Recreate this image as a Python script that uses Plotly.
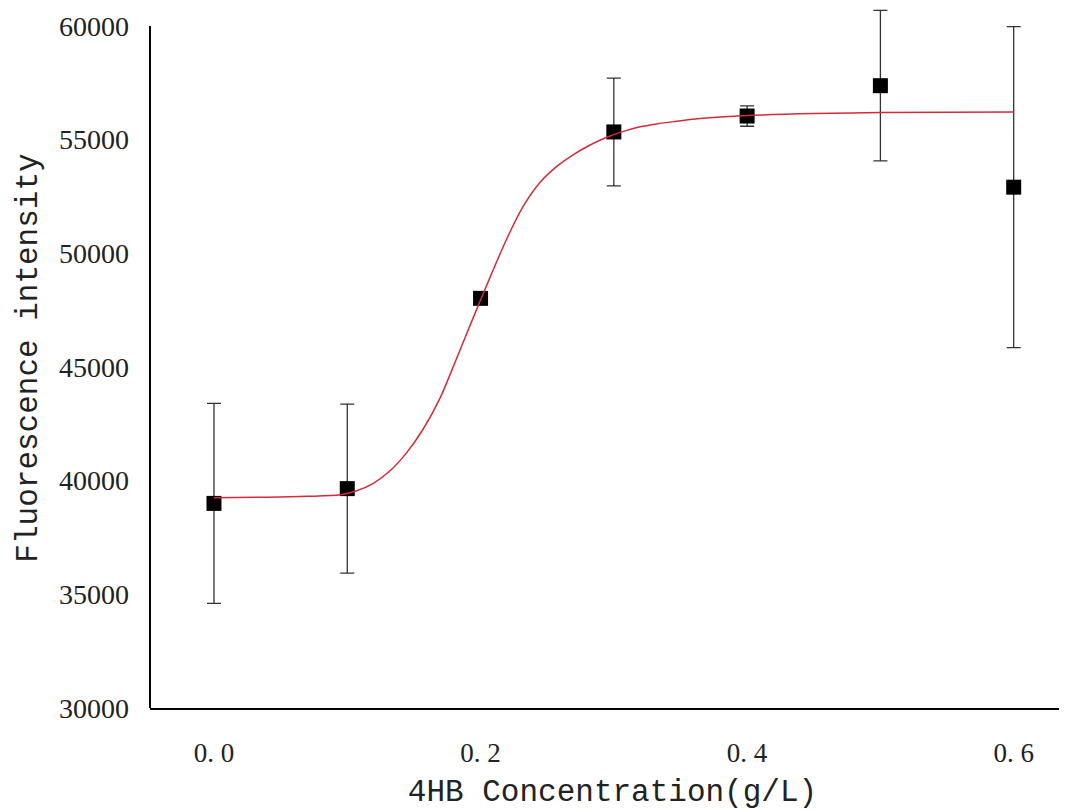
import plotly.graph_objects as go

# measured data
conc = [0.0, 0.1, 0.2, 0.3, 0.4, 0.5, 0.6]
intensity = [39000, 39650, 48020, 55340, 56040, 57375, 52910]
err = [4400, 3720, 250, 2370, 450, 3310, 7060]

# fitted curve
fit_x = [0.0, 0.04, 0.07, 0.0946, 0.1071, 0.1196, 0.1321, 0.1446, 0.1571, 0.1696,
         0.1821, 0.1946, 0.2071, 0.2197, 0.2321, 0.2447, 0.2572, 0.2697, 0.2822,
         0.2947, 0.3072, 0.3197, 0.3322, 0.3447, 0.3647, 0.4, 0.45, 0.5, 0.6]
fit_y = [39250, 39270, 39310, 39380, 39560, 39884, 40434, 41234, 42284, 43634,
         45384, 47184, 48944, 50644, 52074, 53124, 53824, 54344, 54764,
         55104, 55364, 55564, 55694, 55794, 55930, 56060, 56150, 56190, 56220]

x_tickvals = [0.0, 0.2, 0.4, 0.6]
x_ticktext = ["0. 0", "0. 2", "0. 4", "0. 6"]
y_tickvals = [30000, 35000, 40000, 45000, 50000, 55000, 60000]
y_axis_span = [30000, 60000]

serif = "Liberation Serif"
mono = "Liberation Mono"

fig = go.Figure()
fig.add_trace(go.Scatter(
    x=conc, y=intensity, mode="markers",
    marker=dict(symbol="square", size=15, color="black"),
    error_y=dict(type="data", array=err, visible=True, color="#333333", thickness=1.3, width=7),
    cliponaxis=False, showlegend=False,
))
fig.add_trace(go.Scatter(
    x=fit_x, y=fit_y, mode="lines",
    line=dict(color="#d42a3a", width=1.5, shape="spline", smoothing=0.8),
    cliponaxis=False, showlegend=False,
))

# left axis line only up to 60000 (plot area extends above for error bars)
fig.add_shape(type="line", xref="paper", yref="y", x0=0, x1=0,
              y0=y_axis_span[0], y1=y_axis_span[1],
              line=dict(color="black", width=2), layer="above")

fig.update_layout(
    width=1067, height=802,
    margin=dict(l=142, r=0, t=0, b=102),
    paper_bgcolor="white", plot_bgcolor="white",
    xaxis=dict(
        range=[-0.048, 0.646], tickvals=x_tickvals, ticktext=x_ticktext,
        showgrid=False, zeroline=False, showline=True, linecolor="black", linewidth=2,
        ticks="", ticklabelstandoff=20,
        tickfont=dict(family=serif, size=27, color="#222"),
        title=dict(text="4HB Concentration(g/L)", font=dict(family=mono, size=31, color="#222"), standoff=13),
        automargin=False,
    ),
    yaxis=dict(
        range=[30000, 60792], tickvals=y_tickvals, tickformat="d",
        showgrid=False, zeroline=False, showline=False,
        ticks="", ticklabelstandoff=20,
        tickfont=dict(family=serif, size=28, color="#222"),
        title=dict(text="Fluorescence intensity", font=dict(family=mono, size=31, color="#222"), standoff=12),
        automargin=False,
    ),
)

fig.write_html("out.html")
